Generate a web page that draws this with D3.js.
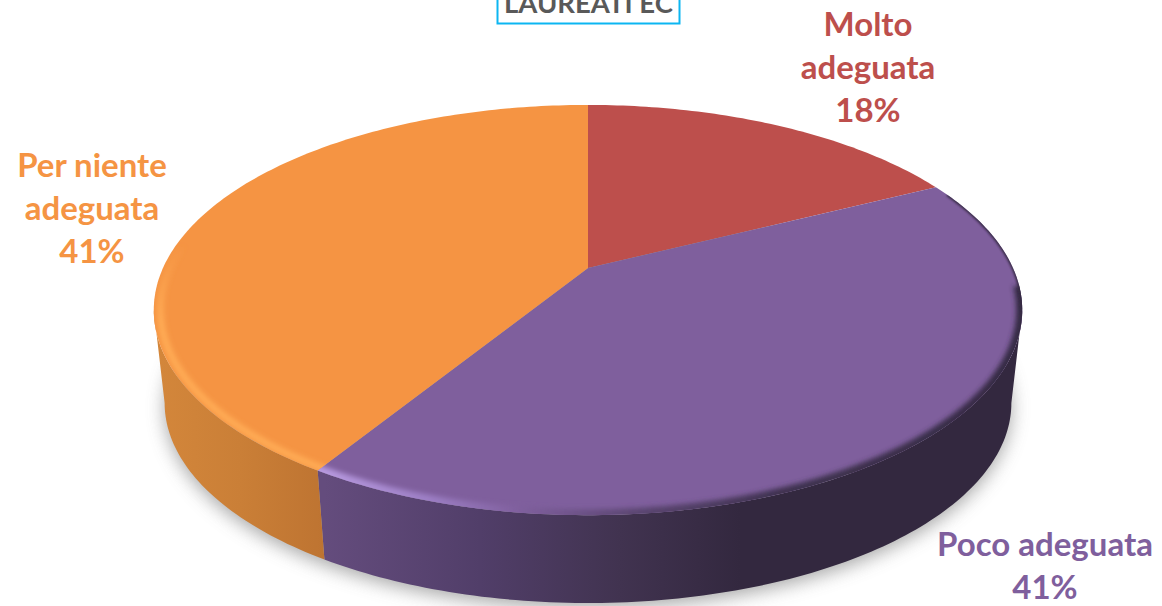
<!DOCTYPE html>
<html>
<head>
<meta charset="utf-8">
<style>
  html, body { margin: 0; padding: 0; background: #fff; overflow: hidden; }
  text { font-family: Lato, "Open Sans", sans-serif; font-weight: 700; }
</style>
<script src="https://cdn.jsdelivr.net/npm/d3@7"></script>
</head>
<body>
<div class="canvas"></div>
<script>
// data, the labels round these to 18 / 41 / 41
const categories = ['Molto adeguata', 'Poco adeguata', 'Per niente adeguata'];
const values = [17.6, 41.2, 41.2];
const titleText = 'LAUREATI EC';

// colours for each slice, same order as categories
const topColors = ['#bd4f4c', '#7f5f9d', '#f59443'];

// label lines and where they sit, same order as categories
const labelLines = [['Molto', 'adeguata'], ['Poco adeguata'], ['Per niente', 'adeguata']];
const labelAnchors = [[868, 36], [1045, 556], [92, 177]];

const width = 1162;
const height = 606;

const svg = d3.select('.canvas')
  .append('svg')
  .attr('width', width)
  .attr('height', height)
  .style('display', 'block');

const defs = svg.append('defs');

// the pie is a flat disc seen in perspective
const tilt = 0.205;
const x = d3.scaleLinear().domain([-1, 1]).range([163, 1013]);
const y = d3.scaleLinear().domain([-1, 1]).range([71.5, 464.5]);
const wallDepth = 94;
const wallShrink = 0.975;

// angle on the disc -> screen point, level 0 is the top face, level 1 the bottom one
function project(angle, level) {
  const w = 1 + tilt * Math.cos(angle);
  const u = Math.sin(angle) / w;
  const v = -Math.cos(angle) / w;
  const s = level ? wallShrink : 1;
  return [
    x(0) + s * (x(u) - x(0)),
    y(0) + s * (y(v) - y(0)) + level * wallDepth,
  ];
}

function arcPoints(a0, a1, level) {
  const n = Math.max(2, Math.ceil(Math.abs(a1 - a0) * 60));
  return d3.range(n + 1).map(i => project(a0 + (a1 - a0) * i / n, level));
}

// pull rim points a little towards the middle of the disc
function inset(points, k) {
  return points.map(p => [x(0) + (p[0] - x(0)) * k, y(0) + 42 + (p[1] - y(0) - 42) * k]);
}

const line = d3.line();
const pie = d3.pie().sort(null).value(d => d);
const slices = pie(values);

function gradient(id, stops) {
  const g = defs.append('linearGradient')
    .attr('id', id)
    .attr('gradientUnits', 'userSpaceOnUse')
    .attr('x1', 150).attr('x2', 1030)
    .attr('y1', 0).attr('y2', 0);
  stops.forEach(s => {
    g.append('stop')
      .attr('offset', (s[0] - 150) / 880)
      .attr('stop-color', s[1]);
  });
}

gradient('wallOrange', [[150, '#d4873b'], [240, '#ca7f37'], [330, '#bd7331']]);
gradient('wallPurple', [[325, '#644c7d'], [480, '#513e69'], [620, '#413350'], [740, '#33283f'], [1030, '#33283f']]);
gradient('rimPurple', [
  [320, '#b89ae0'], [430, '#9c7ec4'], [520, '#7f5f9d'],
  [640, '#5a4570'], [780, '#3f3250'], [1030, '#352a43'],
]);

// orange highlight fades out going up the left side
const fade = defs.append('linearGradient')
  .attr('id', 'rimOrange')
  .attr('gradientUnits', 'userSpaceOnUse')
  .attr('x1', 0).attr('x2', 0)
  .attr('y1', 245).attr('y2', 320);
fade.append('stop').attr('offset', 0).attr('stop-color', '#ffab55').attr('stop-opacity', 0);
fade.append('stop').attr('offset', 1).attr('stop-color', '#ffab55').attr('stop-opacity', 1);

const soft = defs.append('filter').attr('id', 'soft')
  .attr('x', '-10%').attr('y', '-10%').attr('width', '120%').attr('height', '120%');
soft.append('feGaussianBlur').attr('stdDeviation', 9);

const softRim = defs.append('filter').attr('id', 'softRim')
  .attr('x', '-5%').attr('y', '-5%').attr('width', '110%').attr('height', '110%');
softRim.append('feGaussianBlur').attr('stdDeviation', 2.6);

const softThin = defs.append('filter').attr('id', 'softThin')
  .attr('x', '-5%').attr('y', '-5%').attr('width', '110%').attr('height', '110%');
softThin.append('feGaussianBlur').attr('stdDeviation', 1);

// clip each bevel to its own slice
slices.forEach((d, i) => {
  defs.append('clipPath').attr('id', 'sliceClip' + i)
    .append('path')
    .attr('d', line([[x(0), y(0)]].concat(arcPoints(d.startAngle, d.endAngle, 0))) + 'Z');
});

// shadow under the disc
svg.append('path')
  .attr('d', line(arcPoints(0, 2 * Math.PI, 1).map(p => [p[0], p[1] + 5])) + 'Z')
  .attr('fill', '#8c8c8c')
  .attr('opacity', 0.75)
  .attr('filter', 'url(#soft)');

// side wall, only the part facing the viewer
const wallStart = Math.acos(-tilt);
const wallEnd = 2 * Math.PI - wallStart;
const wallFill = ['none', 'url(#wallPurple)', 'url(#wallOrange)'];

slices.forEach((d, i) => {
  const a0 = Math.max(d.startAngle, wallStart);
  const a1 = Math.min(d.endAngle, wallEnd);
  if (a1 <= a0) return;
  const pts = arcPoints(a0, a1, 0).concat(arcPoints(a1, a0, 1));
  svg.append('path')
    .attr('d', line(pts) + 'Z')
    .attr('fill', wallFill[i]);
});

// top faces
svg.selectAll('path.slice')
  .data(slices)
  .enter()
  .append('path')
  .attr('class', 'slice')
  .attr('d', d => line([[x(0), y(0)]].concat(arcPoints(d.startAngle, d.endAngle, 0))) + 'Z')
  .attr('fill', (d, i) => topColors[i]);

// bevel along the rim, bright just inside the edge on the orange, dark on the purple
const purpleRim = svg.append('g').attr('clip-path', 'url(#sliceClip1)');
purpleRim.append('path')
  .attr('d', line(arcPoints(wallStart - 0.12, slices[1].endAngle + 0.02, 0)))
  .attr('fill', 'none')
  .attr('stroke', 'url(#rimPurple)')
  .attr('stroke-width', 12)
  .attr('filter', 'url(#softRim)');
purpleRim.append('path')
  .attr('d', line(arcPoints(slices[1].startAngle + 0.05, wallStart, 0)))
  .attr('fill', 'none')
  .attr('stroke', '#352a43')
  .attr('stroke-width', 3)
  .attr('filter', 'url(#softThin)');

svg.append('g').attr('clip-path', 'url(#sliceClip2)')
  .append('path')
  .attr('d', line(inset(arcPoints(slices[2].startAngle - 0.02, wallEnd + 0.35, 0), 0.985)))
  .attr('fill', 'none')
  .attr('stroke', 'url(#rimOrange)')
  .attr('stroke-width', 7)
  .attr('filter', 'url(#softRim)');

// labels, the percent comes from the values
categories.forEach((c, i) => {
  const t = svg.append('text')
    .attr('text-anchor', 'middle')
    .attr('font-size', 33)
    .attr('fill', topColors[i]);
  labelLines[i].concat(Math.round(values[i]) + '%').forEach((l, k) => {
    t.append('tspan')
      .attr('x', labelAnchors[i][0])
      .attr('y', labelAnchors[i][1] + k * 43)
      .text(l);
  });
});

// title box, cut off by the top of the picture
svg.append('rect')
  .attr('x', 497.5)
  .attr('y', -20)
  .attr('width', 182)
  .attr('height', 43.5)
  .attr('fill', '#fff')
  .attr('stroke', '#0cb6f2')
  .attr('stroke-width', 2);

svg.append('text')
  .attr('x', 588.5)
  .attr('y', 12.5)
  .attr('text-anchor', 'middle')
  .attr('font-size', 27.5)
  .attr('fill', '#595959')
  .text(titleText);
</script>
</body>
</html>
